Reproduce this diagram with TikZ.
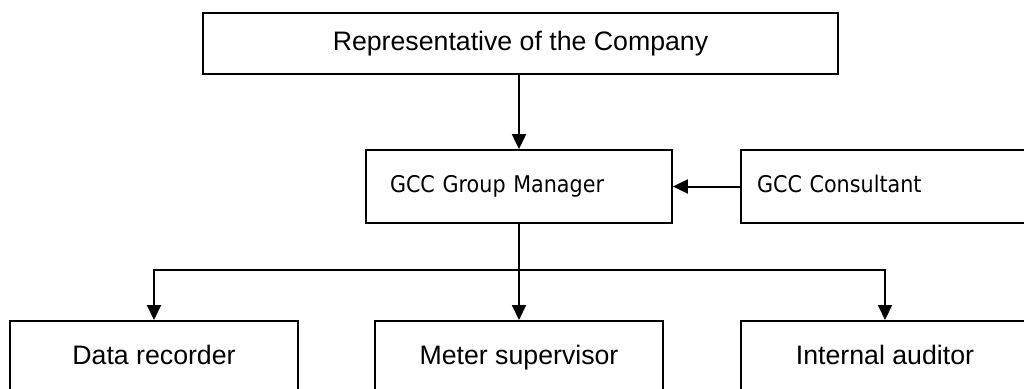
\documentclass[tikz,border=0pt]{standalone}
\usepackage{fontspec}
\setmainfont{Liberation Sans}
\newfontfamily\gccfont[FakeStretch=0.9]{DejaVu Sans}
\usetikzlibrary{arrows.meta}

\begin{document}
\begin{tikzpicture}[x=1pt,y=-1pt,
    box/.style={draw,line width=1.8pt,inner sep=0pt,font=\fontsize{26.7}{32}\selectfont},
    gccbox/.style={draw,line width=1.8pt,inner ysep=0pt,minimum height=73pt,align=left,
        text height=17pt,text depth=5pt,font=\gccfont\fontsize{23}{28}\selectfont},
    lowbox/.style={box,anchor=north,minimum width=288pt,inner ysep=15pt,
        text height=28.5pt,text depth=40pt},
    arr/.style={line width=2pt,-{Triangle[width=14pt,length=15pt]}}]

    \useasboundingbox (0,0) rectangle (1024,388);

    % these are the boxes
    \node[box,minimum width=635pt,minimum height=61pt] (rep) at (520.5,43.5) {Representative of the Company};
    \node[gccbox,text width=258pt,inner xsep=24pt] (mgr) at (519,186.5) {GCC Group Manager};
    \node[gccbox,text width=300pt,inner xsep=16pt] (cons) at (907,186.5) {GCC Consultant};

    \node[lowbox] (rec) at (154,320) {Data recorder};
    \node[lowbox] (sup) at (519,320) {Meter supervisor};
    \node[lowbox] (aud) at (885,320) {Internal auditor};

    \coordinate (split) at (519,270);

    % these are the arrows
    \draw[arr] (mgr.north |- rep.south) -- (mgr.north);
    \draw[arr] (cons.west) -- (mgr.east);
    \draw[line width=2pt] (mgr.south) -- (split);
    \draw[arr] (split) -| (rec.north);
    \draw[arr] (split) -- (sup.north);
    \draw[arr] (split) -| (aud.north);

\end{tikzpicture}
\end{document}
